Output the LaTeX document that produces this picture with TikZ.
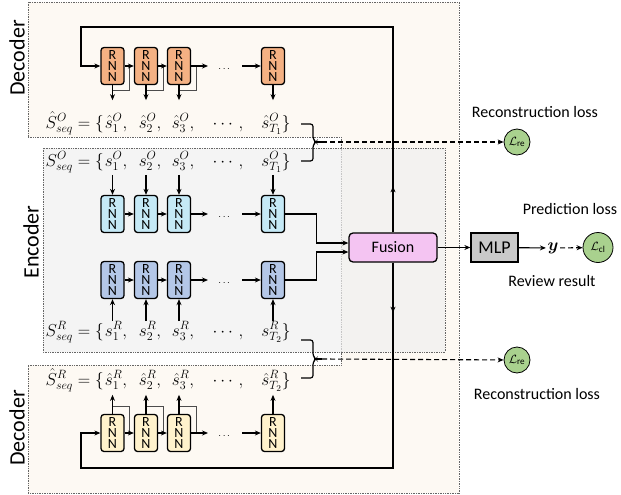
\documentclass[tikz,border=0pt]{standalone}
\usepackage{amsmath, amsfonts}
\usepackage{fontspec}
\setmainfont{Carlito}
\usetikzlibrary{arrows.meta}

\definecolor{creamfill}{HTML}{FDF9F3}
\definecolor{rnnorange}{HTML}{F4B183}
\definecolor{rnncyan}{HTML}{C5E9F6}
\definecolor{rnnblue}{HTML}{B4C7E7}
\definecolor{rnnyellow}{HTML}{FFF2CC}
\definecolor{fusionpink}{HTML}{F4C4F2}
\definecolor{mlpgray}{HTML}{C9C9C9}
\definecolor{lossgreen}{HTML}{A9D18E}

\tikzset{
  rnn/.style={draw, line width=1.3pt, rounded corners=3pt, minimum width=23pt, minimum height=37pt,
    inner sep=0pt, align=center, font=\fontsize{14}{11}\selectfont},
  arr/.style={line width=1.1pt, -{Stealth[length=6pt,width=5pt]}},
  fb/.style={line width=0.9pt, draw=black!70},
  seq/.style={font=\fontsize{18}{20}\selectfont, inner sep=0pt, anchor=base},
  loss/.style={circle, draw, line width=0.8pt, fill=lossgreen, minimum size=26pt, inner sep=0pt,
    font=\fontsize{13}{14}\selectfont},
  boxline/.style={densely dotted, line width=0.7pt, draw=black!60},
  lbl/.style={font=\fontsize{16}{18}\selectfont},
  part/.style={font=\fontsize{22}{24}\selectfont, rotate=90},
}

\begin{document}
\begin{tikzpicture}[x=1pt,y=-1pt]
  \useasboundingbox (0,0) rectangle (621,495);
  % backgrounds
  \filldraw[boxline, fill=creamfill] (28,2) rectangle (459,493);
  \fill[white] (27,137) rectangle (341,365);
  \draw[boxline] (28,137) -- (341,137) -- (341,365) -- (28,365);
  \filldraw[boxline, fill=black!6, fill opacity=0.7] (43,148) rectangle (445,352);
  % part labels
  \node[part] (decO) at (17,58) {Decoder};
  \node[part] (enc) at (31,242) {Encoder};
  \node[part] (decR) at (17,428) {Decoder};

  % fusion, mlp, losses
  \node[draw, line width=1.3pt, rounded corners=4pt, fill=fusionpink, minimum width=88pt,
    minimum height=29pt, font=\fontsize{16}{18}\selectfont] (fusion) at (393,247.5) {Fusion};
  \node[draw, line width=1.3pt, fill=mlpgray, minimum width=47pt, minimum height=29pt,
    font=\fontsize{18}{20}\selectfont] (mlp) at (494.5,247.5) {MLP};
  \node[inner sep=1.5pt, font=\fontsize{17}{18}\selectfont] (yout) at (553,248) {$\boldsymbol{y}$};
  \node[loss, minimum size=30pt] (Lcl) at (598,247.5) {$\mathcal{L}_{\mathrm{cl}}$};
  \node[loss] (LreO) at (517,142) {$\mathcal{L}_{\mathrm{re}}$};
  \node[loss] (LreR) at (517,360) {$\mathcal{L}_{\mathrm{re}}$};
  \node[lbl] (recO) at (535,112) {Reconstruction loss};
  \node[lbl] (pred) at (570,209) {Prediction loss};
  \node[lbl] (rev) at (552,281) {Review result};
  \node[lbl] (recR) at (537,394) {Reconstruction loss};

  % rnn cells and sequences
  \foreach \i/\x in {1/112.5,2/146,3/179,4/273}{
    \node[rnn, fill=rnnorange] (dO\i) at (\x,66) {R\\N\\N};
    \node[rnn, fill=rnncyan] (eO\i) at (\x,214) {R\\N\\N};
    \node[rnn, fill=rnnblue] (eR\i) at (\x,280) {R\\N\\N};
    \node[rnn, fill=rnnyellow] (dR\i) at (\x,433) {R\\N\\N};
  }
  \foreach \i/\x in {1/116,2/150,3/183}{
    \node[seq] (hsO\i) at (\x,128) {$\hat{s}^{O}_{\i},$};
    \node[seq] (sO\i) at (\x,166) {$s^{O}_{\i},$};
    \node[seq] (sR\i) at (\x,336) {$s^{R}_{\i},$};
    \node[seq] (hsR\i) at (\x,385) {$\hat{s}^{R}_{\i},$};
  }
  \foreach \r/\y in {hsO/128,sO/166,sR/336,hsR/385}{
    \node[seq] (\r4) at (228,\y) {$\cdots,$};
  }
  \node[seq] (hsO5) at (276,128) {$\hat{s}^{O}_{T_1}\}$};
  \node[seq] (sO5) at (276,166) {$s^{O}_{T_1}\}$};
  \node[seq] (sR5) at (276,336) {$s^{R}_{T_2}\}$};
  \node[seq] (hsR5) at (276,385) {$\hat{s}^{R}_{T_2}\}$};
  \node[seq, anchor=base east] (hSO) at (104,128) {$\hat{S}^{O}_{seq}=\{$};
  \node[seq, anchor=base east] (SO) at (104,166) {$S^{O}_{seq}=\{$};
  \node[seq, anchor=base east] (SR) at (104,336) {$S^{R}_{seq}=\{$};
  \node[seq, anchor=base east] (hSR) at (104,385) {$\hat{S}^{R}_{seq}=\{$};

  % feedback
  \foreach \i in {1,2,3}{
    \draw[fb] ([yshift=-5pt]dO\i.south) -| ([xshift=5pt]dO\i.east);
    \draw[fb] ([yshift=7pt]dR\i.north) -| ([xshift=5pt]dR\i.east);
  }
  % chains
  \foreach \r/\y in {dO/66,eO/214,eR/280,dR/433}{
    \coordinate (\r a) at (208,\y);
    \coordinate (\r b) at (242,\y);
    \draw[arr] (\r1) -- (\r2);
    \draw[arr] (\r2) -- (\r3);
    \draw[arr] (\r3) -- (\r a);
    \draw[arr] (\r b) -- (\r4);
    \node (\r-dots) at (225,\y+3) {$\cdots$};
  }
  % inputs and outputs
  \foreach \i in {1,...,4}{
    \draw[arr] (dO\i.south) -- ++(0,15);
    \draw[arr] (dR\i.north) -- ++(0,-19);
    \draw[arr] ([yshift=20pt]eO\i.north) -- (eO\i.north);
    \draw[arr] ([yshift=-22pt]eR\i.south) -- (eR\i.south);
  }
  % encoder to fusion
  \draw[arr] (eO4.east) -- ++(31,0) |- ([yshift=4.5pt]fusion.west);
  \draw[arr] (eR4.east) -- ++(31,0) |- ([yshift=-4.5pt]fusion.west);
  % decoder loops
  \coordinate (topL) at (81,27);
  \coordinate (botL) at (81,468);
  \draw[arr] (fusion.north) |- (topL) |- (dO1.west);
  \draw[arr] (fusion.south) |- (botL) |- (dR1.west);
  \draw[arr] (fusion.north) -- ++(0,-46);
  \draw[arr] (fusion.south) -- ++(0,50);
  % braces
  \coordinate (brO) at (322,142);
  \coordinate (brR) at (322,359);
  \draw[line width=1.2pt, rounded corners=2.5pt] (301,124) -| (313,139) -- (316,142) -- (313,145) |- (301,161);
  \draw[line width=1.2pt, rounded corners=2.5pt] (301,340) -| (313,356) -- (316,359) -- (313,362) |- (301,378);
  \draw[line width=1.2pt] (315,142) -- (brO);
  \draw[line width=1.2pt] (315,359) -- (brR);
  % outputs
  \draw[arr] (fusion) -- (mlp);
  \draw[arr] (mlp) -- (yout);
  \draw[arr, dash pattern=on 5pt off 3pt] (yout) -- (Lcl);
  \draw[arr, dash pattern=on 5pt off 3pt] (brO) -- (LreO);
  \draw[arr, dash pattern=on 5pt off 3pt] (brR) -- (LreR);
\end{tikzpicture}
\end{document}
